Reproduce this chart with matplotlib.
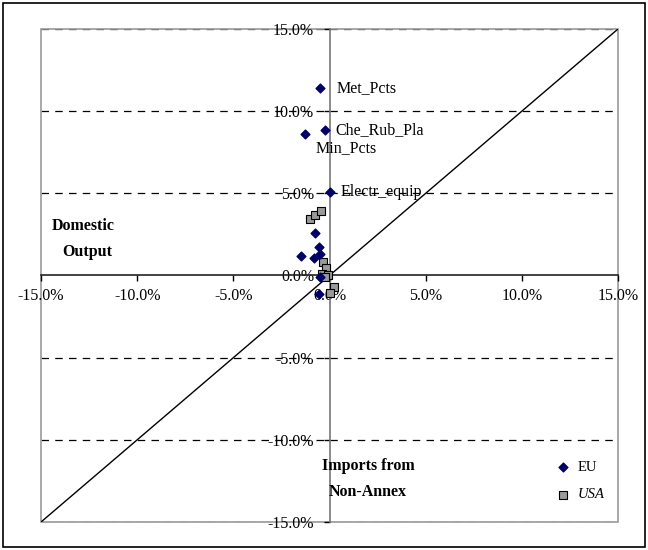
import matplotlib.pyplot as plt
from matplotlib.patches import Rectangle
from matplotlib.ticker import FuncFormatter, FixedLocator

plt.rcParams['font.family'] = ['Liberation Serif', 'DejaVu Serif']

# change in imports from Non-Annex (x) vs. domestic output (y), in percent
eu_x = [-0.47, -0.26, -1.27, 0.03, -0.74, -0.57, -1.47, -0.83, -0.52, -0.52, -0.56]
eu_y = [11.4, 8.84, 8.6, 5.1, 2.58, 1.73, 1.18, 1.08, 1.31, -0.1, -1.1]
eu_names = ["Met_Pcts", "Che_Rub_Pla", "Min_Pcts", "Electr_equip"]

usa_x = [-0.99, -0.78, -0.42, -0.35, -0.17, -0.40, -0.09, -0.26, 0.21, 0.03]
usa_y = [3.42, 3.70, 3.95, 0.81, 0.45, 0.10, 0.00, -0.10, -0.71, -1.05]

ticks = [-15, -10, -5, 0, 5, 10, 15]

fig = plt.figure(figsize=(6.48, 5.5), dpi=100)
fig.patches.append(Rectangle((0.005, 0.005), 0.99, 0.99, transform=fig.transFigure,
                             fill=False, edgecolor='black', linewidth=1.2))
ax = fig.add_axes([0.0633, 0.0509, 0.8904, 0.8964])
ax.set_xlim(-15, 15)
ax.set_ylim(-15, 15)

# plot area frame
ax.add_patch(Rectangle((0, 0), 1, 1, transform=ax.transAxes, fill=False,
                       edgecolor='#999999', linewidth=1.2, zorder=1, clip_on=False))

# axes crossing at zero
for side in ['top', 'right']:
    ax.spines[side].set_visible(False)
ax.spines['left'].set_position(('data', 0))
ax.spines['bottom'].set_position(('data', 0))
ax.spines['left'].set_color('#777777')
ax.spines['bottom'].set_color('#222222')
ax.spines['left'].set_linewidth(1.2)
ax.spines['bottom'].set_linewidth(1.2)

pct = FuncFormatter(lambda v, p: f"{v:.1f}%")
ax.xaxis.set_major_locator(FixedLocator(ticks))
ax.yaxis.set_major_locator(FixedLocator(ticks))
ax.xaxis.set_major_formatter(pct)
ax.yaxis.set_major_formatter(pct)
ax.tick_params(axis='x', direction='out', length=4, width=1, pad=5, labelsize=11.5)
ax.tick_params(axis='y', direction='out', length=4, width=1, pad=7, labelsize=11.5)

for v in [-15, -10, -5, 5, 10, 15]:
    ax.axhline(v, color='black', linestyle=(0, (6, 5)), linewidth=0.9, zorder=0)

# 45 degree line
ax.plot([-15, 15], [-15, 15], color='black', linewidth=1.0, zorder=2)

ax.scatter(usa_x, usa_y, marker='s', s=36, color='#9a9a9a', edgecolors='black',
           linewidths=0.8, zorder=3, label='USA')
ax.scatter(eu_x, eu_y, marker='D', s=20, color='#000066', edgecolors='#000066',
           zorder=4, label='EU')

label_pos = [(0.35, 11.4, 'left'), (0.3, 8.85, 'left'), (-0.7, 7.75, 'left'), (0.6, 5.1, 'left')]
for name, (lx, ly, ha) in zip(eu_names, label_pos):
    ax.text(lx, ly, name, fontsize=11.5, ha=ha, va='center', zorder=5)

ax.text(-12.8, 3.0, "Domestic", fontsize=11.5, fontweight='bold', ha='center', va='center')
ax.text(-12.6, 1.45, "Output", fontsize=11.5, fontweight='bold', ha='center', va='center')
ax.text(2.0, -11.6, "Imports from", fontsize=11.5, fontweight='bold', ha='center', va='center')
ax.text(2.0, -13.2, "Non-Annex", fontsize=11.5, fontweight='bold', ha='center', va='center')

handles, labels = ax.get_legend_handles_labels()
leg = ax.legend(handles[::-1], labels[::-1], loc='lower right', bbox_to_anchor=(1.0, 0.015),
                frameon=False, fontsize=10.5, handletextpad=0.0, labelspacing=1.0,
                scatterpoints=1)
leg.get_texts()[1].set_fontstyle('italic')

fig.savefig('out.png', dpi=100)
